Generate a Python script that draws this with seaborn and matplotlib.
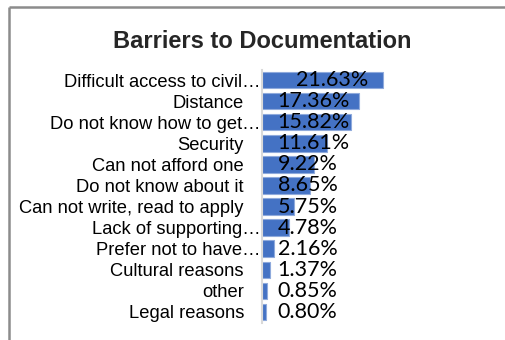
import matplotlib
matplotlib.use("Agg")
import matplotlib.pyplot as plt
import matplotlib.transforms as mtransforms
from matplotlib.lines import Line2D
import seaborn as sns
import pandas as pd

categories = [
    "Difficult access to civil\u2026",
    "Distance",
    "Do not know how to get\u2026",
    "Security",
    "Can not afford one",
    "Do not know about it",
    "Can not write, read to apply",
    "Lack of supporting\u2026",
    "Prefer not to have\u2026",
    "Cultural reasons",
    "other",
    "Legal reasons",
]
values = [21.63, 17.36, 15.82, 11.61, 9.22, 8.65, 5.75, 4.78, 2.16, 1.37, 0.85, 0.80]
title = "Barriers to Documentation"

df = pd.DataFrame({"category": categories, "value": values})

sns.set_theme(style="white")
plt.rcParams["font.family"] = ["Liberation Sans", "DejaVu Sans"]

W, H = 506, 340
fig = plt.figure(figsize=(W / 100, H / 100), dpi=100)
fig.patch.set_facecolor("white")

# chart frame (top and left edges of the chart area)
fig.add_artist(Line2D([8.5 / W, 8.5 / W], [0, 1 - 6.5 / H], transform=fig.transFigure,
                      color="#8c8c8c", lw=1.8, solid_capstyle="butt"))
fig.add_artist(Line2D([8.5 / W, 1], [1 - 6.5 / H, 1 - 6.5 / H], transform=fig.transFigure,
                      color="#8c8c8c", lw=1.8, solid_capstyle="butt"))

left, right = 262 / W, (262 + 224) / W
top, bottom = 1 - 69.5 / H, 1 - 322.5 / H
ax = fig.add_axes([left, bottom, right - left, top - bottom])

sns.barplot(data=df, x="value", y="category", orient="h", color="#4472C4",
            saturation=1, width=0.78, edgecolor="#8faadc", linewidth=0.8, ax=ax)

ax.set_xlim(0, 40)
ax.set_ylim(len(categories) - 0.5, -0.5)
ax.set_xlabel("")
ax.set_ylabel("")
ax.set_xticks([])
for s in ["top", "right", "bottom"]:
    ax.spines[s].set_visible(False)
ax.spines["left"].set_color("#d9d9d9")
ax.spines["left"].set_linewidth(1.5)
ax.set_facecolor("none")

ax.tick_params(axis="y", length=0, pad=13, labelsize=13.2, labelcolor="#000000")
for lbl in ax.get_yticklabels():
    lbl.set_fontfamily(["Liberation Sans", "DejaVu Sans"])
    if lbl.get_text().endswith("\u2026"):
        lbl.set_transform(lbl.get_transform() +
                          mtransforms.ScaledTranslation(17 / 100, 0, fig.dpi_scale_trans))

# data labels
for i, v in enumerate(values):
    lx = 6.1 if v > 20 else 2.8
    ax.text(lx, i, f"{v:.2f}%", ha="left", va="center", fontsize=15.5,
            family=["Lato", "DejaVu Sans"], color="#000000")

fig.text(262 / W, 1 - 42 / H, title, ha="center", va="center",
         fontsize=17, fontweight="bold", family=["Liberation Sans", "DejaVu Sans"])

fig.savefig("out.png", dpi=100, facecolor="white")
